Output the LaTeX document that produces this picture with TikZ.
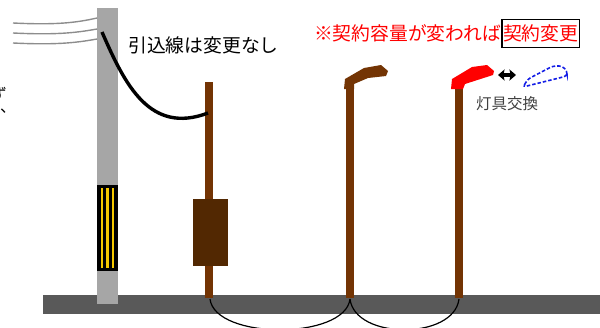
\documentclass[tikz,border=0pt]{standalone}
\usepackage{fontspec}
\newfontfamily\jpfont{Noto Sans CJK JP}
\usetikzlibrary{positioning,arrows.meta}

\definecolor{polegray}{RGB}{166,166,166}
\definecolor{groundgray}{RGB}{89,89,89}
\definecolor{woodbrown}{RGB}{115,52,4}
\definecolor{boxbrown}{RGB}{82,40,2}
\definecolor{meteryellow}{RGB}{245,200,0}
\definecolor{lampblue}{RGB}{20,30,230}

\tikzset{
  jp/.style={inner sep=0pt,font=\jpfont\fontsize{18.8}{21}\selectfont},
  wire/.style={polegray!85!black,line width=1.4pt},
  cable/.style={black,line width=1.2pt},
  fathead/.tip={Stealth[length=6.5pt,width=11pt,inset=1pt]}
}

\begin{document}
\begin{tikzpicture}[x=1pt,y=-1pt]
\useasboundingbox (0,0) rectangle (600,327);
% ground
\fill[groundgray] (43,295) rectangle (600,314);
% underground cables between the poles
\coordinate (p1foot) at (210,299);
\coordinate (p2foot) at (350,299);
\coordinate (p3foot) at (459,299);
\draw[cable] (p1foot) .. controls (215,340) and (345,340) .. (p2foot);
\draw[cable] (p2foot) .. controls (355,340) and (454,340) .. (p3foot);
% utility pole with its meter
\fill[polegray] (97,8) rectangle (118,304);
\fill[black] (97,185) rectangle (118,271);
\foreach \x in {102,107.5,113}
  \draw[meteryellow,line width=2.4pt] (\x,188) -- (\x,268);
% overhead lines
\coordinate (w1) at (13,23); \coordinate (w2) at (13,33); \coordinate (w3) at (13,43);
\coordinate (t1) at (97,18); \coordinate (t2) at (97,29); \coordinate (t3) at (97,39);
\draw[wire] (w1) .. controls (55,25) and (75,23) .. (t1);
\draw[wire] (w2) .. controls (55,35) and (75,33) .. (t2);
\draw[wire] (w3) .. controls (55,45) and (75,43) .. (t3);
% customer pole and meter box
\fill[woodbrown] (205,82) rectangle (213,298);
\fill[boxbrown] (193,199) rectangle (228,266);
% service drop
\coordinate (drop) at (102,32);
\coordinate (entry) at (208,113);
\draw[black,line width=3.4pt] (drop) .. controls (125,85) and (150,135) .. (entry);
% street lamps
\fill[woodbrown] (346,83) rectangle (354,298);
\fill[woodbrown] (344,89) -- (345,79) -- (364,68) -- (381,65) -- (388,71)
  -- (386,76) -- (368,78) -- (354,84) -- (354,89) -- cycle;
\fill[woodbrown] (455,83) rectangle (463,298);
\fill[red] (451,89) -- (452,79) -- (472,67) -- (487,65) -- (494,71)
  -- (493,75) -- (465,84) -- (463,89) -- cycle;
% new lamp head
\draw[lampblue,line width=1.6pt,dash pattern=on 3.5pt off 2pt,rounded corners=3pt]
  (523,87) -- (528,79) -- (553,66) -- (562,66) -- (567,71) -- (567,76) -- cycle;
\coordinate (old) at (498,75);
\coordinate (new) at (516,75);
\draw[black,line width=3.5pt,fathead-fathead] (old) -- (new);
% labels
\node[jp,anchor=west] (drop label) at (128,45) {引込線は変更なし};
\node[jp,draw=black,line width=1.5pt,inner sep=1pt,minimum height=28pt,text=red,anchor=east] (contract) at (580,33.5) {契約変更};
\node[jp,text=red,anchor=east] (note) at (contract.west) {※契約容量が変われば};
\node[jp,font=\jpfont\fontsize{15.5}{17}\selectfont,text=black!75,anchor=north] (swap) at (507,96) {灯具交換};
\node[jp,font=\jpfont\fontsize{16}{18}\selectfont,anchor=east] (cut1) at (7,94) {ず};
\node[jp,font=\jpfont\fontsize{16}{18}\selectfont,anchor=west] (cut2) at (0,111) {、};
\end{tikzpicture}
\end{document}
